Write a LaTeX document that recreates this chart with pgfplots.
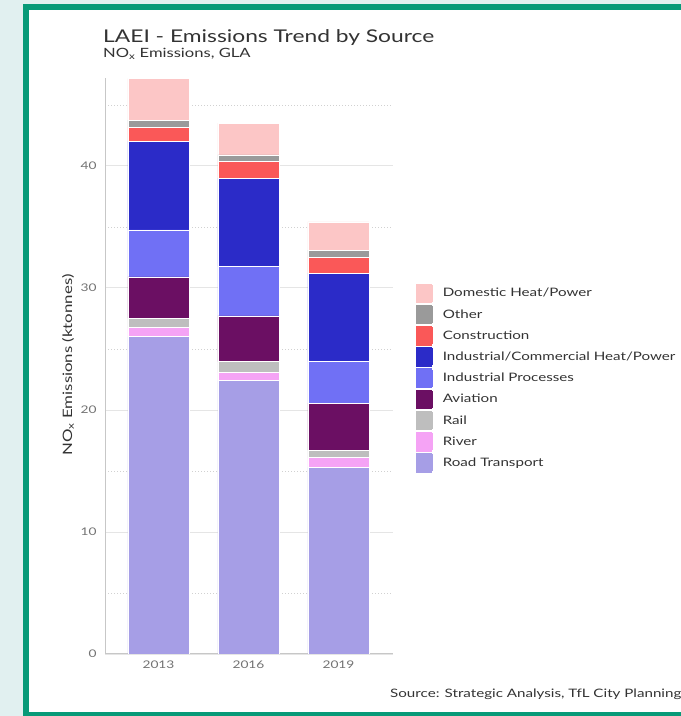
\documentclass[border=0pt]{standalone}
\usepackage{pgfplots}
\usepackage{pgfplotstable}
\pgfplotsset{compat=1.18}
\usepackage{fontspec}
\setmainfont{Lato}[FakeStretch=1.3]
\definecolor{bgc}{HTML}{E1F0F0}
\definecolor{framec}{HTML}{079A78}
\definecolor{titlec}{HTML}{333333}
\definecolor{road}{HTML}{A69EE6}
\definecolor{river}{HTML}{F5A3F5}
\definecolor{rail}{HTML}{BEBEBE}
\definecolor{aviation}{HTML}{6B0F63}
\definecolor{indproc}{HTML}{7070F5}
\definecolor{indcomm}{HTML}{2B2BC8}
\definecolor{constr}{HTML}{FA5858}
\definecolor{other}{HTML}{9A9A9A}
\definecolor{domestic}{HTML}{FCC6C6}
\pgfplotstableread{
x road river rail aviation indproc indcomm constr other domestic
0 26.0 0.75 0.75 3.4 3.85 7.25 1.15 0.6 3.4
1 22.4 0.7 0.85 3.75 4.05 7.25 1.35 0.55 2.6
2 15.3 0.8 0.6 3.85 3.4 7.25 1.3 0.6 2.3
}\data
\begin{document}
\begin{tikzpicture}
\path[use as bounding box, fill=bgc] (0bp,0bp) rectangle (681bp,716bp);
\fill[framec] (23bp,0bp) rectangle (690bp,712bp);
\fill[white] (29bp,4bp) rectangle (690bp,706bp);
\node[anchor=base west, inner sep=0pt, font=\fontsize{17.6}{19}\selectfont, text=titlec] at (103bp,673.2bp) {LAEI - Emissions Trend by Source};
\node[anchor=base west, inner sep=0pt, font=\fontsize{12.8}{14}\selectfont, text=titlec] at (103bp,658.7bp) {NO\textsubscript{x} Emissions, GLA};
\node[anchor=base west, inner sep=0pt, font=\fontsize{11.7}{13}\selectfont, text=titlec] at (390bp,19bp) {Source: Strategic Analysis, TfL City Planning};
\begin{axis}[
  at={(105bp,62bp)}, anchor=south west,
  scale only axis, width=288bp, height=576bp,
  ybar stacked, bar width=61bp,
  xmin=-0.5944, xmax=2.6056, ymin=0, ymax=47.2,
  axis x line*=bottom, axis y line*=left,
  axis line style={draw=black!22, line width=1bp, -},
  xtick={0,1,2}, xticklabels={2013,2016,2019},
  ytick={0,10,20,30,40}, minor ytick={5,15,25,35,45},
  major tick length=0pt, minor tick length=0pt,
  ymajorgrids, yminorgrids,
  major grid style={draw=black!10, line width=0.8bp},
  minor grid style={draw=black!18, line width=0.6bp, dash pattern=on 1bp off 2bp},
  tick label style={font=\fontsize{10.6}{12}\selectfont, text=black!55},
  yticklabel style={xshift=-5bp},
  xticklabel style={yshift=-3bp},
  /pgf/number format/assume math mode=true,
  ylabel={NO\textsubscript{x} Emissions (ktonnes)},
  ylabel style={at={(axis description cs:-0.1285,0.5017)}, anchor=center, font=\fontsize{13}{14}\selectfont, text=titlec},
  every axis plot/.append style={draw=white, line width=0.6bp},
  reverse legend,
  legend cell align=left,
  legend style={draw=none, fill=none, at={(1.0764,0.645)}, anchor=north west, inner sep=0pt, column sep=10bp, row sep=0pt,
    font=\fontsize{11.7}{13}\selectfont, text=titlec, nodes={inner sep=0pt}},
  legend image code/.code={\path (0bp,-10.3bp) rectangle (17bp,10.3bp); \fill[#1, draw=none] (0bp,-8.5bp) rectangle (17bp,8.5bp);},
]
\addplot[fill=road] table[x=x,y=road] {\data}; \addlegendentry{Road Transport}
\addplot[fill=river] table[x=x,y=river] {\data}; \addlegendentry{River}
\addplot[fill=rail] table[x=x,y=rail] {\data}; \addlegendentry{Rail}
\addplot[fill=aviation] table[x=x,y=aviation] {\data}; \addlegendentry{Aviation}
\addplot[fill=indproc] table[x=x,y=indproc] {\data}; \addlegendentry{Industrial Processes}
\addplot[fill=indcomm] table[x=x,y=indcomm] {\data}; \addlegendentry{Industrial/Commercial Heat/Power}
\addplot[fill=constr] table[x=x,y=constr] {\data}; \addlegendentry{Construction}
\addplot[fill=other] table[x=x,y=other] {\data}; \addlegendentry{Other}
\addplot[fill=domestic] table[x=x,y=domestic] {\data}; \addlegendentry{Domestic Heat/Power}
\end{axis}
\end{tikzpicture}
\end{document}
